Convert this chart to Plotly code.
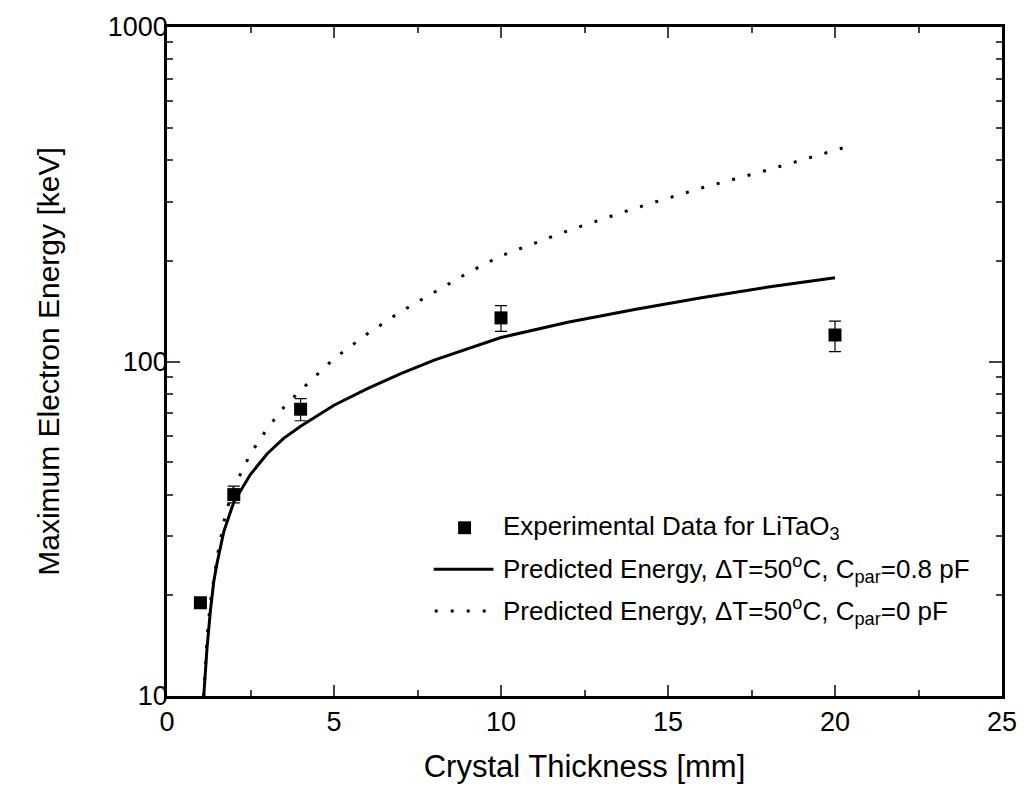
import plotly.graph_objects as go

# Measured maximum electron energy for LiTaO3 crystals
thickness_mm = [1, 2, 4, 10, 20]
energy_kev = [19, 40, 72, 135, 120]
err_plus = [0.6, 2.4, 5.5, 12, 12]
err_minus = [0.6, 2.2, 5.5, 12, 13]

# Predicted energy, dT = 50 C, C_par = 0.8 pF
pred_x_08 = [1.1, 1.2, 1.3, 1.4, 1.5, 1.7, 2.0, 2.5, 3.0, 3.5, 4.0, 5.0, 6.0, 7.0,
             8.0, 9.0, 10.0, 12.0, 14.0, 16.0, 18.0, 20.0]
pred_y_08 = [10, 14, 18, 22, 25, 31, 38, 46, 53, 59, 64, 74, 83, 92,
             101, 109, 118, 131, 143, 155, 167, 178]

# Predicted energy, dT = 50 C, C_par = 0 pF
pred_x_0 = [1.1, 1.2, 1.3, 1.5, 1.75, 2.0, 2.5, 3.0, 3.5, 4.0, 5.0, 6.0, 7.0,
            8.0, 9.0, 10.0, 12.0, 14.0, 16.0, 18.0, 20.4]
pred_y_0 = [10, 15, 19, 26, 35, 42, 53, 63, 73, 82, 102, 121, 141,
            161, 184, 207, 246, 287, 330, 374, 440]

x_ticks = [0, 5, 10, 15, 20, 25]
y_ticks = [10, 100, 1000]
y_minor = [v * d for d in (10, 100) for v in range(2, 10)]

FONT = "Liberation Sans, Arial, sans-serif"

fig = go.Figure()

fig.add_trace(go.Scatter(
    x=pred_x_08, y=pred_y_08, mode="lines",
    line=dict(color="black", width=3), showlegend=False))
fig.add_trace(go.Scatter(
    x=pred_x_0, y=pred_y_0, mode="lines",
    line=dict(color="black", width=3, dash="3px,13px"), showlegend=False))
fig.add_trace(go.Scatter(
    x=thickness_mm, y=energy_kev, mode="markers",
    marker=dict(symbol="square", size=13, color="black"),
    error_y=dict(type="data", array=err_plus, arrayminus=err_minus,
                 color="black", thickness=1.2, width=6),
    showlegend=False))

# Plot area in pixels (for placing the hand-drawn legend)
L, R, T, B = 167, 1006, 20, 696
W, H = R - L, B - T


def px(x):
    return (x - L) / W


def py(y):
    return (B - y) / H


shapes = []
annotations = []
rows = [526, 568, 610]
text_x = 503

# legend sample: filled square
shapes.append(dict(type="rect", xref="paper", yref="paper",
                   x0=px(459.5), x1=px(472.5), y0=py(rows[0] + 6.5), y1=py(rows[0] - 6.5),
                   fillcolor="black", line=dict(width=0)))
# legend sample: solid line
shapes.append(dict(type="line", xref="paper", yref="paper",
                   x0=px(435), x1=px(495), y0=py(rows[1]), y1=py(rows[1]),
                   line=dict(color="black", width=3)))
# legend sample: dotted line
shapes.append(dict(type="line", xref="paper", yref="paper",
                   x0=px(436), x1=px(496), y0=py(rows[2]), y1=py(rows[2]),
                   line=dict(color="black", width=3, dash="3px,13px")))

labels = [
    "Experimental Data for LiTaO<sub>3</sub>",
    "Predicted Energy, \u0394T=50<sup>o</sup>C, C<sub>par</sub>=0.8 pF",
    "Predicted Energy, \u0394T=50<sup>o</sup>C, C<sub>par</sub>=0 pF",
]
for row, lab in zip(rows, labels):
    annotations.append(dict(
        xref="paper", yref="paper", x=px(text_x), y=py(row),
        xanchor="left", yanchor="middle", text=lab, showarrow=False,
        font=dict(family=FONT, size=26, color="black")))

fig.update_layout(
    width=1029, height=793,
    margin=dict(l=L, r=1029 - R, t=T, b=793 - B),
    paper_bgcolor="white", plot_bgcolor="white",
    font=dict(family=FONT, color="black"),
    shapes=shapes, annotations=annotations,
    xaxis=dict(
        range=[0, 25], tickvals=x_ticks, ticks="inside", ticklen=11, tickwidth=2,
        showline=True, linewidth=2.5, linecolor="black", mirror="allticks",
        showgrid=False, zeroline=False,
        tickfont=dict(family=FONT, size=27),
        minor=dict(tickvals=[2.5, 7.5, 12.5, 17.5, 22.5], ticks="inside",
                   ticklen=6, tickwidth=2, showgrid=False),
        title=dict(text="Crystal Thickness [mm]", font=dict(family=FONT, size=31),
                   standoff=20),
    ),
    yaxis=dict(
        type="log", range=[1, 3], tickvals=y_ticks, ticktext=["10", "100", "1000"],
        ticks="inside", ticklen=13, tickwidth=2, ticklabelstandoff=-9,
        showline=True, linewidth=2.5, linecolor="black", mirror="allticks",
        showgrid=False, zeroline=False,
        tickfont=dict(family=FONT, size=27),
        minor=dict(tickvals=y_minor, ticks="inside", ticklen=6, tickwidth=2,
                   showgrid=False),
        title=dict(text="Maximum Electron Energy [keV]", font=dict(family=FONT, size=30),
                   standoff=40),
    ),
)

fig.write_html("out.html")
